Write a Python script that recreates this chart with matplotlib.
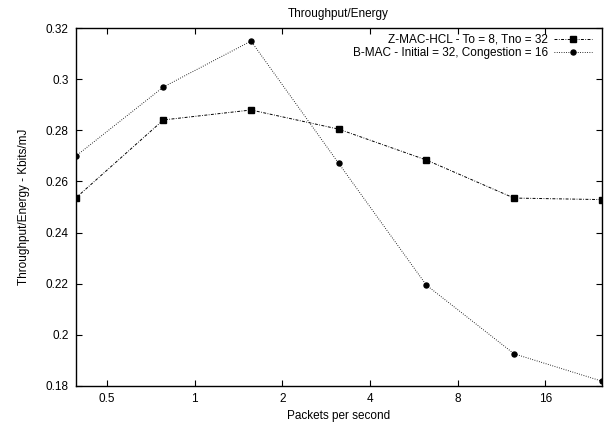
import numpy as np
import matplotlib.pyplot as plt

plt.rcParams['font.family'] = ['Liberation Sans', 'DejaVu Sans']

# packets per second (log2 axis)
rate = [0.390625, 0.78125, 1.5625, 3.125, 6.25, 12.5, 25]
zmac = [0.2535, 0.2841, 0.2880, 0.2805, 0.2684, 0.2535, 0.2529]
bmac = [0.2699, 0.2970, 0.3150, 0.2671, 0.2194, 0.1925, 0.1818]

xticks = [0.5, 1, 2, 4, 8, 16]
xticklabels = ['0.5', '1', '2', '4', '8', '16']
yticks = [0.18, 0.2, 0.22, 0.24, 0.26, 0.28, 0.3, 0.32]
yticklabels = ['0.18', '0.2', '0.22', '0.24', '0.26', '0.28', '0.3', '0.32']

fs = 8.5

fig = plt.figure(figsize=(6.08, 4.25), dpi=100)
ax = fig.add_axes([0.1245, 0.0925, 0.8651, 0.8409])

ax.plot(rate, zmac, color='black', lw=0.7, dashes=(3, 1.5, 0.8, 1.5),
        marker='s', ms=5, label='Z-MAC-HCL - To = 8, Tno = 32')
ax.plot(rate, bmac, color='black', lw=0.7, dashes=(0.8, 1.6),
        marker='o', ms=3.6, label='B-MAC - Initial = 32, Congestion = 16')

ax.set_xscale('log', base=2)
ax.set_xlim(rate[0], rate[-1])
ax.set_ylim(0.18, 0.32)
ax.set_xticks(xticks)
ax.set_xticklabels(xticklabels)
ax.minorticks_off()
ax.set_yticks(yticks)
ax.set_yticklabels(yticklabels)
ax.tick_params(direction='in', length=4, width=0.8, top=True, right=True,
               labelsize=fs, pad=5)
for s in ax.spines.values():
    s.set_linewidth(1.0)

ax.set_title('Throughput/Energy', fontsize=fs, pad=8)
ax.set_xlabel('Packets per second', fontsize=fs, labelpad=4)
ax.set_ylabel('Throughput/Energy - Kbits/mJ', fontsize=fs, labelpad=11)

ax.legend(loc='upper right', frameon=False, markerfirst=False, fontsize=fs,
          handlelength=3.2, handletextpad=0.5, labelspacing=0.1,
          borderaxespad=0.0, bbox_to_anchor=(0.99, 0.998))

fig.savefig('out.png', dpi=100)
